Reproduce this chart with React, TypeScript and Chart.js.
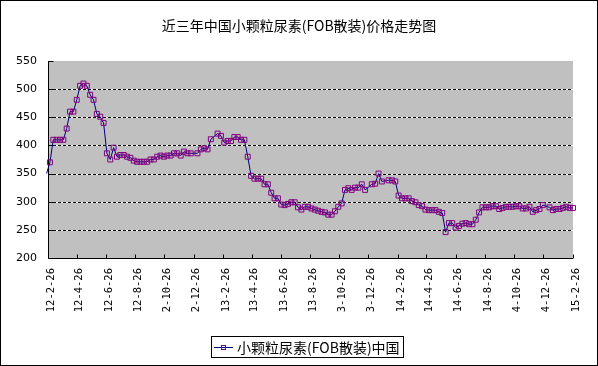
import React, { useEffect, useRef } from "react";
import { Chart, registerables } from "chart.js";

Chart.register(...registerables);

const chartTitle = "近三年中国小颗粒尿素(FOB散装)价格走势图";
const seriesName = "小颗粒尿素(FOB散装)中国";

// x-axis tick labels (yy-m-dd), every two months
const tickLabels = [
  "12-2-26", "12-4-26", "12-6-26", "12-8-26", "12-10-26", "12-12-26",
  "13-2-26", "13-4-26", "13-6-26", "13-8-26", "13-10-26", "13-12-26",
  "14-2-26", "14-4-26", "14-6-26", "14-8-26", "14-10-26", "14-12-26",
  "15-2-26",
];

// first weekly observation date (yy-m-dd); observations are weekly after it
const firstObservation = "12-2-23";

// weekly prices (USD/t); null = no quote that week
const prices: (number | null)[] = [
  350,
  370, 410, 410, 410, 410, 430, 460, 460, 481, 506,
  510, 506, 490, 481, 456, 451, 440, 386, 375, 396,
  380, 383, 383, 380, 378, 373, 371, 371, 371, 371,
  375, 375, 380, 382, 380, 382, 382, 386, 386, 382,
  389, 386, 386, null, 386, 393, 395, 393, 411, null,
  421, 417, 405, 408, 408, 415, 415, 410, 410, 380,
  346, 341, 341, 341, 331, 331, 316, 306, 306, 295,
  294, 296, 299, 299, 290, 286, 291, 291, 288, 286,
  284, 282, 281, 277, 277, 283, 291, 297, 321, 324,
  321, 325, 325, 331, 321, null, 331, 332, 350, 336,
  null, 338, 338, 336, 311, 306, 306, 306, 301, 299,
  294, 292, 286, 285, 285, 285, 282, 280, 246, 262,
  262, 254, 257, 261, 262, 260, 260, 268, 281, 290,
  290, 290, 292, 292, 287, 289, 291, 291, 291, 292,
  292, 288, 288, 291, 282, 285, 287, 294, null, 290,
  285, 287, 287, 289, 291, 289, 289,
];

const yMin = 200;
const yMax = 550;
const yStep = 50;

function dayNumber(label: string): number {
  const [yy, m, d] = label.split("-").map(Number);
  return Date.UTC(2000 + yy, m - 1, d) / 86400000;
}

const axisStart = dayNumber(tickLabels[0]);
const tickDays = tickLabels.map((l) => dayNumber(l) - axisStart);
const firstDay = dayNumber(firstObservation) - axisStart;
const points = prices.map((v, i) => ({ x: firstDay + 7 * i, y: v }));

const LINE_COLOR = "#000080";
const MARKER_COLOR = "#800080";
const PLOT_BG = "#C0C0C0";

const decorPlugin = {
  id: "decor",
  beforeDraw(chart: any) {
    const { ctx, chartArea: a, width, height } = chart;
    const ys = chart.scales.y;
    ctx.save();
    ctx.fillStyle = "#ffffff";
    ctx.fillRect(0, 0, width, height);
    ctx.fillStyle = PLOT_BG;
    ctx.fillRect(a.left, a.top, a.right - a.left, a.bottom - a.top);
    ctx.lineWidth = 1;
    for (let v = yMin + yStep; v < yMax; v += yStep) {
      const py = Math.round(ys.getPixelForValue(v)) + 0.5;
      ctx.setLineDash([]);
      ctx.strokeStyle = "#ffffff";
      ctx.beginPath();
      ctx.moveTo(a.left, py);
      ctx.lineTo(a.right, py);
      ctx.stroke();
      ctx.setLineDash([3, 2]);
      ctx.strokeStyle = "#000000";
      ctx.beginPath();
      ctx.moveTo(a.left, py);
      ctx.lineTo(a.right, py);
      ctx.stroke();
    }
    ctx.restore();
  },
  beforeDatasetsDraw(chart: any) {
    const { ctx, chartArea: a } = chart;
    const xs = chart.scales.x;
    const ys = chart.scales.y;
    ctx.save();
    ctx.setLineDash([]);
    ctx.strokeStyle = "#000000";
    ctx.lineWidth = 1;
    const lx = Math.round(a.left) + 0.5;
    const by = Math.round(a.bottom) + 0.5;
    ctx.beginPath();
    ctx.moveTo(lx, a.top);
    ctx.lineTo(lx, by);
    ctx.lineTo(a.right, by);
    ctx.stroke();
    for (let v = yMin; v <= yMax; v += yStep) {
      const py = Math.round(ys.getPixelForValue(v)) + 0.5;
      ctx.beginPath();
      ctx.moveTo(lx, py);
      ctx.lineTo(lx + 5, py);
      ctx.stroke();
    }
    tickDays.forEach((d) => {
      const px = Math.round(xs.getPixelForValue(d)) + 0.5;
      ctx.beginPath();
      ctx.moveTo(px, by);
      ctx.lineTo(px, by - 4);
      ctx.stroke();
    });
    ctx.restore();
  },
  afterDraw(chart: any) {
    const { ctx, chartArea: a, width, height } = chart;
    const xs = chart.scales.x;
    ctx.save();
    // x tick labels (rotated, clipped like the original)
    ctx.save();
    ctx.beginPath();
    ctx.rect(0, a.bottom + 1, width, 312.5 - a.bottom - 1);
    ctx.clip();
    ctx.font = "10.5px 'DejaVu Sans Mono'";
    ctx.fillStyle = "#000000";
    tickLabels.forEach((label, i) => {
      const px = xs.getPixelForValue(tickDays[i]);
      ctx.save();
      ctx.translate(px + 3, a.bottom + 10);
      ctx.rotate(-Math.PI / 2);
      ctx.textAlign = "right";
      ctx.textBaseline = "middle";
      ctx.fillText(label, 0, 0);
      ctx.restore();
    });
    ctx.restore();

    // title
    ctx.font = "14px 'Noto Sans CJK SC'";
    ctx.fillStyle = "#000000";
    ctx.textAlign = "center";
    ctx.textBaseline = "middle";
    ctx.fillText(chartTitle, 299, 26);

    // legend
    ctx.strokeStyle = "#000000";
    ctx.lineWidth = 1;
    ctx.strokeRect(211.5, 336.5, 192, 21);
    ctx.strokeStyle = LINE_COLOR;
    ctx.beginPath();
    ctx.moveTo(214, 347.5);
    ctx.lineTo(233, 347.5);
    ctx.stroke();
    ctx.strokeStyle = MARKER_COLOR;
    ctx.strokeRect(221.5, 345.5, 4, 4);
    ctx.fillStyle = "#000000";
    ctx.textAlign = "left";
    ctx.font = "14px 'Noto Sans CJK SC'";
    ctx.fillText(seriesName, 237, 347.5);

    // outer border
    ctx.strokeStyle = "#000000";
    ctx.strokeRect(0.5, 0.5, width - 1, height - 1);
    ctx.restore();
  },
};

export default function App() {
  const canvasRef = useRef<HTMLCanvasElement | null>(null);

  useEffect(() => {
    document.body.style.margin = "0";
    const canvas = canvasRef.current;
    if (!canvas) return;
    const chart = new Chart(canvas, {
      type: "line",
      data: {
        datasets: [
          {
            label: seriesName,
            data: points as any,
            borderColor: LINE_COLOR,
            borderWidth: 1,
            backgroundColor: "transparent",
            pointStyle: "rect",
            pointRadius: (c: any) => (c.dataIndex === 0 ? 0 : 3.5),
            pointBorderColor: MARKER_COLOR,
            pointBackgroundColor: "rgba(0,0,0,0)",
            pointBorderWidth: 1,
            tension: 0,
            spanGaps: true,
            clip: false as any,
          },
        ],
      },
      options: {
        animation: false,
        responsive: false,
        maintainAspectRatio: false,
        devicePixelRatio: 1,
        layout: { padding: { top: 61, right: 25, left: 0, bottom: 0 } },
        plugins: {
          legend: { display: false },
          title: { display: false },
          tooltip: { enabled: false },
        },
        scales: {
          x: {
            type: "linear",
            min: 0,
            max: tickDays[tickDays.length - 1],
            ticks: { display: false },
            grid: { display: false, drawTicks: false },
            border: { display: false },
            afterFit: (s: any) => {
              s.height = 108;
            },
          },
          y: {
            min: yMin,
            max: yMax,
            ticks: {
              stepSize: yStep,
              color: "#000000",
              padding: 11,
              font: { family: "'DejaVu Sans'", size: 11 },
            },
            grid: { display: false, drawTicks: false },
            border: { display: false },
            afterFit: (s: any) => {
              s.width = 48;
            },
          },
        },
      },
      plugins: [decorPlugin],
    });
    return () => chart.destroy();
  }, []);

  return (
    <div style={{ width: 598, height: 366 }}>
      <canvas ref={canvasRef} width={598} height={366} style={{ display: "block" }} />
    </div>
  );
}
